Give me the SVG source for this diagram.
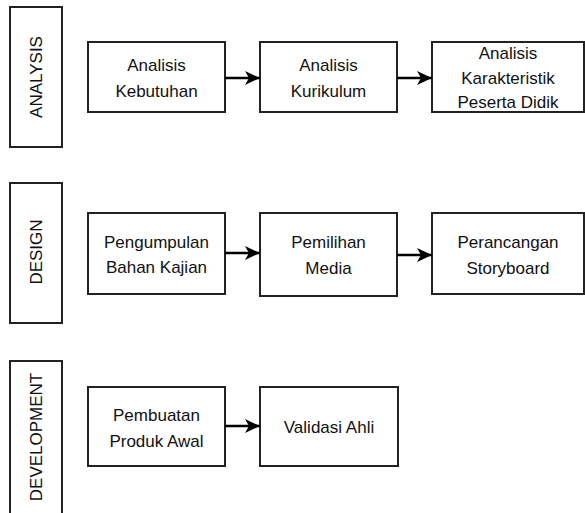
<svg xmlns="http://www.w3.org/2000/svg" width="585" height="513" viewBox="0 0 585 513">
<style>
.box{fill:#fff;stroke:#222;stroke-width:2}
.t{font-family:"Liberation Sans",Arial,sans-serif;font-size:17px;fill:#111;text-anchor:middle}
.v{font-family:"Liberation Sans",Arial,sans-serif;font-size:17px;fill:#111;text-anchor:middle}
.c{fill:none;stroke:#000;stroke-width:2.5}
</style>
<defs>
<marker id="ah" markerUnits="userSpaceOnUse" markerWidth="16" markerHeight="14" refX="15" refY="7" orient="auto">
<path d="M0,0 L15,7 L0,14 L4,7 z" fill="#000"/>
</marker>
</defs>
<rect width="585" height="513" fill="#fff"/>
<g id="phase-analysis">
<rect class="box" x="10" y="7" width="52" height="140"/>
<text class="v" transform="translate(42,77) rotate(-90)">ANALYSIS</text>
</g>
<g id="phase-design">
<rect class="box" x="10" y="183" width="52" height="140"/>
<text class="v" transform="translate(42,252) rotate(-90)">DESIGN</text>
</g>
<g id="phase-development">
<rect class="box" x="10" y="361" width="52" height="160"/>
<text class="v" transform="translate(42,437) rotate(-90)">DEVELOPMENT</text>
</g>
<g id="analisis-kebutuhan">
<rect class="box" x="88" y="42" width="137" height="70"/>
<text class="t" x="156.5" y="71">Analisis</text>
<text class="t" x="156.5" y="97">Kebutuhan</text>
</g>
<g id="analisis-kurikulum">
<rect class="box" x="260" y="42" width="137" height="70"/>
<text class="t" x="328.5" y="71">Analisis</text>
<text class="t" x="328.5" y="97">Kurikulum</text>
</g>
<g id="analisis-karakteristik">
<rect class="box" x="432" y="42" width="152" height="70"/>
<text class="t" x="508" y="59">Analisis</text>
<text class="t" x="508" y="84">Karakteristik</text>
<text class="t" x="508" y="108">Peserta Didik</text>
</g>
<g id="pengumpulan">
<rect class="box" x="88" y="213" width="137" height="81"/>
<text class="t" x="156.5" y="248">Pengumpulan</text>
<text class="t" x="156.5" y="273">Bahan Kajian</text>
</g>
<g id="pemilihan">
<rect class="box" x="260" y="213" width="137" height="83"/>
<text class="t" x="328.5" y="248">Pemilihan</text>
<text class="t" x="328.5" y="274">Media</text>
</g>
<g id="perancangan">
<rect class="box" x="432" y="213" width="152" height="81"/>
<text class="t" x="508" y="248">Perancangan</text>
<text class="t" x="508" y="274">Storyboard</text>
</g>
<g id="pembuatan">
<rect class="box" x="88" y="387" width="137" height="79"/>
<text class="t" x="156.5" y="421">Pembuatan</text>
<text class="t" x="156.5" y="447">Produk Awal</text>
</g>
<g id="validasi">
<rect class="box" x="260" y="387" width="138" height="79"/>
<text class="t" x="329" y="433">Validasi Ahli</text>
</g>
<g id="connectors">
<line class="c" x1="225" y1="78" x2="260" y2="78" marker-end="url(#ah)"/>
<line class="c" x1="397" y1="78" x2="432" y2="78" marker-end="url(#ah)"/>
<line class="c" x1="225" y1="253" x2="260" y2="253" marker-end="url(#ah)"/>
<line class="c" x1="397" y1="255" x2="432" y2="255" marker-end="url(#ah)"/>
<line class="c" x1="225" y1="426" x2="260" y2="426" marker-end="url(#ah)"/>
</g>
</svg>
